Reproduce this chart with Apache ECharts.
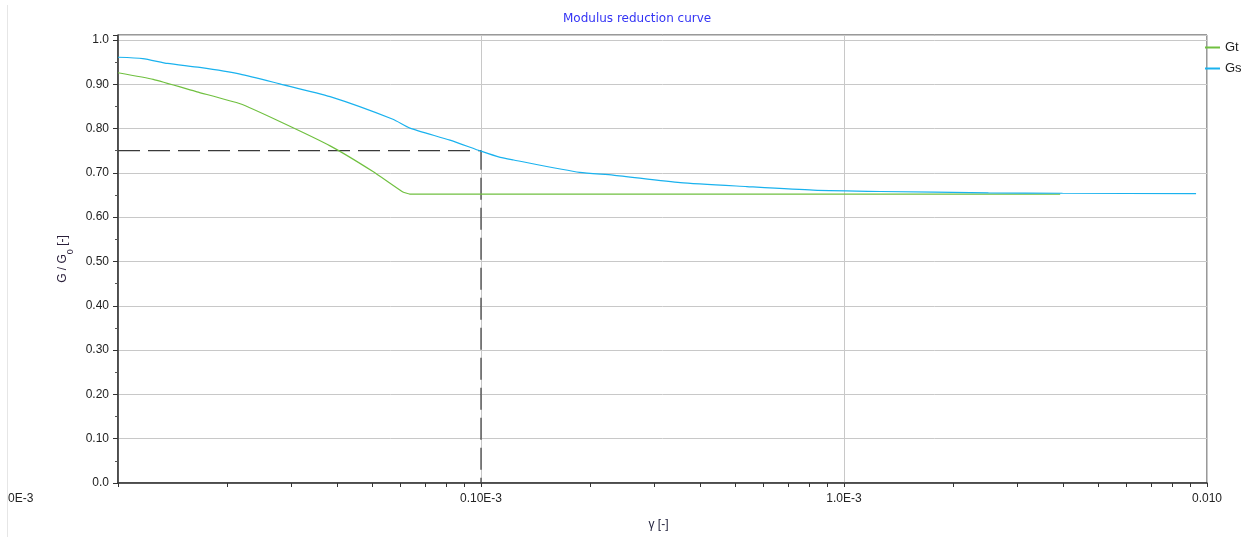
<!DOCTYPE html>
<html>
<head>
<meta charset="utf-8">
<title>Modulus reduction curve</title>
<script src="https://cdn.jsdelivr.net/npm/echarts@6/dist/echarts.min.js"></script>
<style>
  html, body { margin: 0; padding: 0; background: #ffffff; }
  #chart { width: 1251px; height: 541px; }
</style>
</head>
<body>
<div id="chart"></div>
<script>
// Shear strain γ [-] and normalised shear modulus G/G0 [-]
const gtStrain = [1.0e-5, 1.25e-5, 1.65e-5, 2.17e-5, 2.79e-5, 3.84e-5, 5.04e-5, 6.06e-5, 6.37e-5, 3.94e-3];
const gtRatio  = [0.926, 0.911, 0.883, 0.856, 0.816, 0.761, 0.703, 0.658, 0.652, 0.652];

const gsStrain = [1.0e-5, 1.17e-5, 1.37e-5, 1.68e-5, 2.17e-5, 2.79e-5, 3.84e-5, 5.72e-5, 6.37e-5, 8.21e-5,
                  1.0e-4, 1.13e-4, 1.23e-4, 1.87e-4, 2.31e-4, 3.54e-4, 5.4e-4, 8.22e-4, 1.26e-3, 2.5e-3, 4.0e-3, 9.33e-3];
const gsRatio  = [0.961, 0.958, 0.947, 0.938, 0.923, 0.901, 0.872, 0.821, 0.801, 0.774,
                  0.749, 0.735, 0.729, 0.701, 0.695, 0.678, 0.669, 0.661, 0.658, 0.655, 0.654, 0.653];

// Reference strain where G/G0 = 0.75
const guideStrain = [1.0e-5, 1.0e-4, 1.0e-4];
const guideRatio  = [0.75, 0.75, 0.0];

// Tick labels
const xTickValues = [1e-5, 1e-4, 1e-3, 1e-2];
const xTickLabels = ['0E-3', '0.10E-3', '1.0E-3', '0.010'];
const yTickLabels = ['0.0', '0.10', '0.20', '0.30', '0.40', '0.50', '0.60', '0.70', '0.80', '0.90', '1.0'];

// Log minor tick positions (2..9 in each decade)
const xMinorTicks = [];
[1e-5, 1e-4, 1e-3].forEach(function (d) {
  for (let k = 2; k <= 9; k++) xMinorTicks.push([k * d, 0]);
});

const pair = (xs, ys) => xs.map((x, i) => [x, ys[i]]);

const FONT = '"Liberation Sans", Arial, sans-serif';
const chart = echarts.init(document.getElementById('chart'), null, { renderer: 'canvas' });

chart.setOption({
  animation: false,
  backgroundColor: '#ffffff',
  title: {
    text: 'Modulus reduction curve',
    left: 563,
    top: 13,
    padding: 0,
    textStyle: { color: '#3434f4', fontSize: 12, fontWeight: 'normal', fontFamily: '"DejaVu Sans", Verdana, sans-serif' }
  },
  legend: {
    orient: 'vertical',
    left: 1205,
    top: 41,
    padding: 0,
    data: ['Gt', 'Gs'],
    icon: 'rect',
    itemWidth: 15,
    itemHeight: 2,
    itemGap: 8,
    itemTextGap: 6,
    textStyle: { color: '#222', fontSize: 13, fontFamily: FONT }
  },
  grid: {
    left: 118, right: 44, top: 35, bottom: 58,
    show: true, borderColor: '#333', borderWidth: 1, backgroundColor: '#fff'
  },
  xAxis: {
    type: 'log',
    logBase: 10,
    min: 1e-5,
    max: 1e-2,
    name: 'γ [-]',
    nameLocation: 'middle',
    nameGap: 36,
    nameTextStyle: { color: '#1f1f3a', fontSize: 12, fontFamily: FONT, padding: [0, 8, 0, 0] },
    axisLine: { lineStyle: { color: '#333', width: 1.5 } },
    axisTick: { show: true, length: 4, lineStyle: { color: '#333' } },
    axisLabel: {
      margin: 10,
      color: '#222',
      fontSize: 12,
      fontFamily: FONT,
      formatter: function (v) {
        const i = xTickValues.findIndex(t => Math.abs(Math.log10(t) - Math.log10(v)) < 1e-6);
        return i > 0 ? xTickLabels[i] : '';
      }
    },
    splitLine: { show: true, lineStyle: { color: '#c8c8c8', width: 1 } }
  },
  yAxis: {
    type: 'value',
    min: 0,
    max: 1.0112,
    interval: 0.1,
    name: 'G / G{sub|0} [-]',
    nameLocation: 'middle',
    nameRotate: 90,
    nameGap: 48,
    nameTextStyle: {
      color: '#2a1f3a', fontSize: 12, fontFamily: FONT,
      rich: { sub: { fontSize: 9, verticalAlign: 'bottom', padding: [0, 0, -6, 0], color: '#2a1f3a', fontFamily: FONT } }
    },
    axisLine: { show: true, lineStyle: { color: '#333', width: 1.5 } },
    axisTick: { show: true, length: 5, lineStyle: { color: '#333' } },
    minorTick: { show: true, splitNumber: 2, length: 3, lineStyle: { color: '#555' } },
    axisLabel: {
      margin: 9,
      color: '#222',
      fontSize: 12,
      fontFamily: FONT,
      showMaxLabel: false,
      formatter: function (v) {
        const i = Math.round(v * 10);
        return Math.abs(v - i / 10) < 1e-6 ? yTickLabels[i] : '';
      }
    },
    splitLine: { show: true, lineStyle: { color: '#c8c8c8', width: 1 } }
  },
  series: [
    {
      name: 'guide',
      type: 'line',
      data: pair(guideStrain, guideRatio),
      showSymbol: false,
      silent: true,
      lineStyle: { color: '#3a3a3a', width: 1.2, type: [22, 8] },
      z: 2
    },
    {
      name: 'Gt',
      type: 'line',
      data: pair(gtStrain, gtRatio),
      showSymbol: false,
      smooth: 0.15,
      color: '#70c040',
      lineStyle: { color: '#70c040', width: 1.2 },
      z: 3
    },
    {
      name: 'Gs',
      type: 'line',
      data: pair(gsStrain, gsRatio),
      showSymbol: false,
      smooth: 0.2,
      color: '#1ab2ee',
      lineStyle: { color: '#1ab2ee', width: 1.2 },
      z: 4
    },
    {
      name: 'minorTicks',
      type: 'custom',
      silent: true,
      clip: false,
      data: xMinorTicks,
      renderItem: function (params, api) {
        const p = api.coord([api.value(0), api.value(1)]);
        return {
          type: 'line',
          shape: { x1: Math.round(p[0]) + 0.5, y1: p[1], x2: Math.round(p[0]) + 0.5, y2: p[1] + 4 },
          style: { stroke: '#333', lineWidth: 1 }
        };
      },
      z: 5
    }
  ],
  graphic: [
    {
      type: 'line',
      shape: { x1: 7.5, y1: 5, x2: 7.5, y2: 537 },
      style: { stroke: '#e6e6e6', lineWidth: 1 },
      silent: true
    },
    {
      type: 'text',
      left: 8,
      top: 493,
      style: { text: xTickLabels[0], fill: '#222', font: '12px ' + FONT },
      silent: true
    }
  ]
});
</script>
</body>
</html>
